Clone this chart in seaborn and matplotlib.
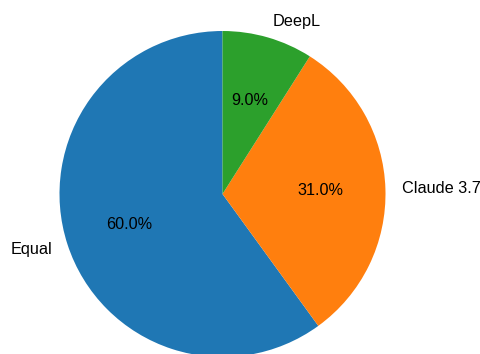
import matplotlib
matplotlib.use("Agg")
import matplotlib.pyplot as plt
import seaborn as sns

labels = ["Equal", "Claude 3.7", "DeepL"]
values = [60.0, 31.0, 9.0]

sns.set_theme(style="white")
plt.rcParams['font.family'] = ['Liberation Sans', 'DejaVu Sans']

colors = sns.color_palette("tab10", 3)

fig = plt.figure(figsize=(4.8, 3.54), dpi=100)
ax = fig.add_axes([18.75/480, -43.75/354, 407.5/480, 407.5/354])
ax.pie(values, labels=labels, colors=colors, autopct='%1.1f%%', startangle=90,
       wedgeprops={'linewidth': 0},
       textprops={'fontsize': 11.7, 'color': 'black'})
ax.set_aspect('equal')
fig.savefig("out.png", dpi=100)
